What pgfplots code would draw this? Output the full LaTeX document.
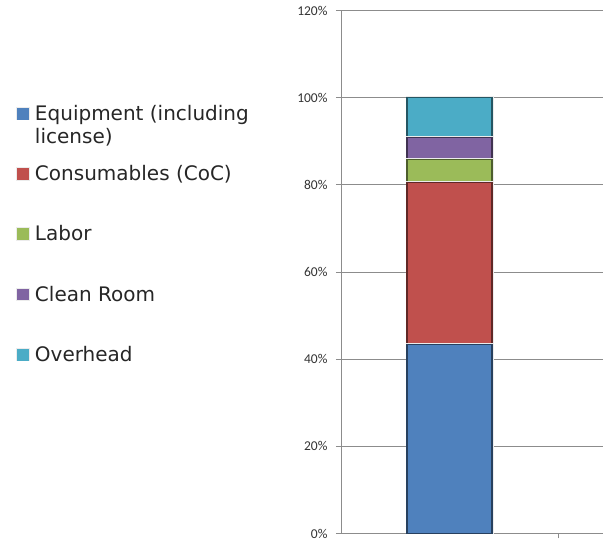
\documentclass[border=0pt]{standalone}
\usepackage{pgfplots}
\pgfplotsset{compat=1.18}
\usepackage{fontspec}
\setmainfont{Carlito}
\newfontfamily\legfont{DejaVu Sans}
\definecolor{cEq}{HTML}{4F81BD}
\definecolor{cCo}{HTML}{C0504D}
\definecolor{cLa}{HTML}{9BBB59}
\definecolor{cCl}{HTML}{8064A2}
\definecolor{cOv}{HTML}{4BACC6}
\definecolor{gridc}{HTML}{8C8C8C}
\pgfplotsset{bev/.style={fill=#1, draw=#1!50!black, line width=1.1bp,
  preaction={draw=white!85!gray, line width=3bp},
  legend image code/.code={\fill[#1] (0bp,-2.5bp) rectangle (11bp,8bp);}}}
\begin{document}
\begin{tikzpicture}
\useasboundingbox (0,0) rectangle (603bp,540bp);
\begin{axis}[
  at={(341bp,6.5bp)}, anchor=south west,
  scale only axis, width=262bp, height=523bp,
  xmin=0.5, xmax=1.707, ymin=0, ymax=120,
  enlargelimits=false,
  ybar stacked, bar width=85bp,
  xtick={1.5}, xticklabels={},
  ytick={0,20,...,120},
  yticklabel={\pgfmathprintnumber[fixed,precision=0]{\tick}\%},
  /pgf/number format/assume math mode=true,
  ticklabel style={font=\fontsize{13.5bp}{15bp}\selectfont, text=black!80},
  yticklabel style={xshift=-5bp},
  ymajorgrids, grid style={gridc, line width=0.7bp},
  axis x line*=bottom, axis y line*=left,
  axis line style={gridc, line width=0.7bp, -},
  tick style={gridc, line width=0.7bp}, tick align=outside, major tick length=5bp,
  legend cell align=left,
  legend style={at={(axis description cs:-1.2405,0.8155)}, anchor=north west,
    draw=none, fill=none, inner sep=0pt, outer sep=0pt,
    row sep=42.75bp, column sep=5bp,
    font=\legfont\fontsize{20bp}{23bp}\selectfont,
    nodes={inner sep=0pt, text height=12bp, text depth=4bp, text=black!85}},
]
\addplot[bev=cEq] coordinates {(1,43.3)};
\addlegendentry{\parbox[t]{235bp}{Equipment (including\\license)}}
\addplot[bev=cCo] coordinates {(1,37.2)};
\addlegendentry{Consumables (CoC)}
\addplot[bev=cLa] coordinates {(1,5.3)};
\addlegendentry{Labor}
\addplot[bev=cCl] coordinates {(1,5.0)};
\addlegendentry{Clean Room}
\addplot[bev=cOv] coordinates {(1,9.2)};
\addlegendentry{Overhead}
\end{axis}
\end{tikzpicture}
\end{document}
